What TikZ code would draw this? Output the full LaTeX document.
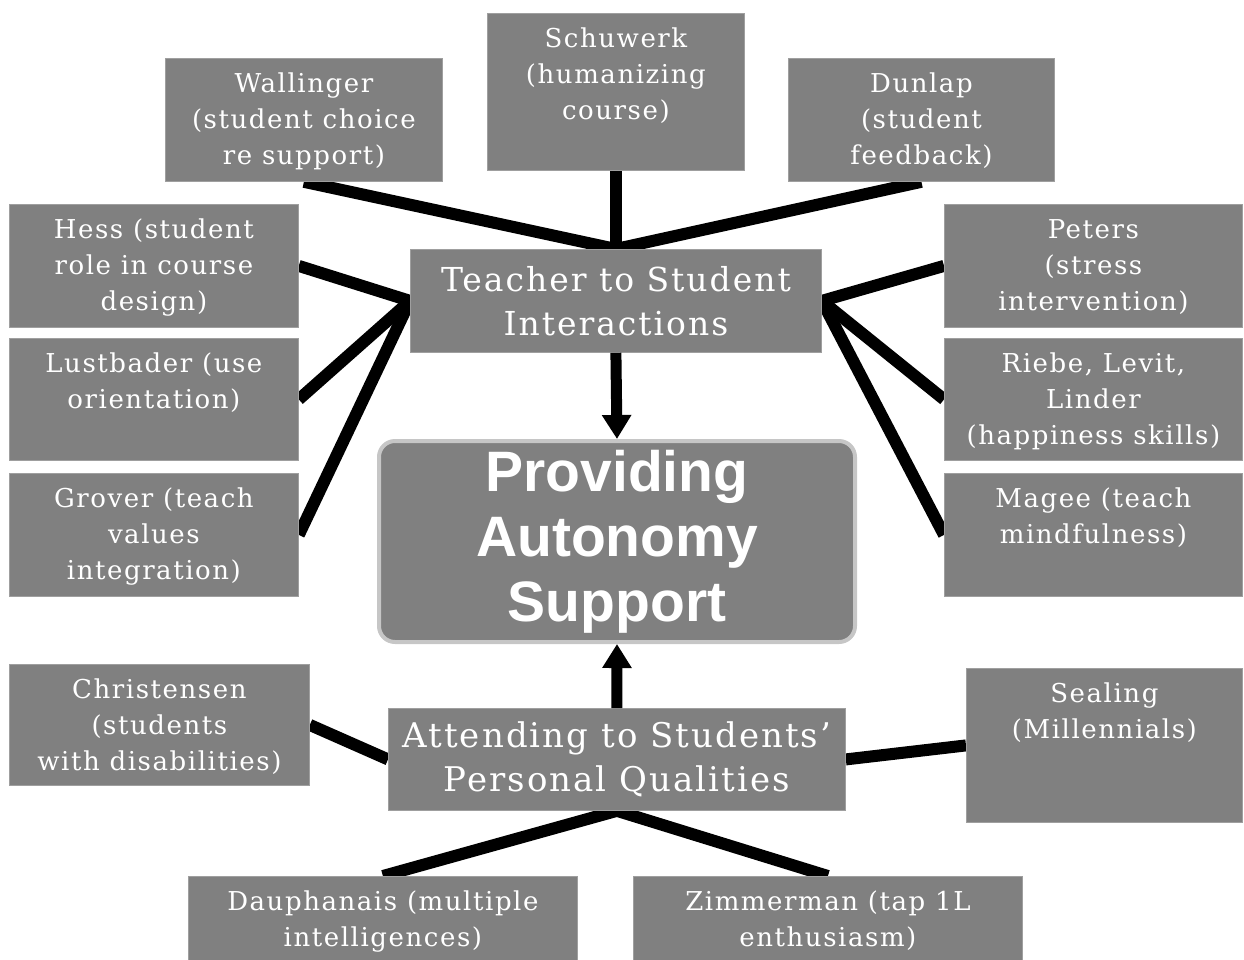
\documentclass[tikz,border=0pt]{standalone}
\usepackage{fontspec}
\setmainfont{DejaVu Serif}
\newfontfamily\centerfont{Liberation Sans}
\newfontfamily\spacedserif[LetterSpace=6]{DejaVu Serif}
\usetikzlibrary{arrows.meta,backgrounds}
\definecolor{boxgray}{RGB}{128,128,128}
\newcommand\tbx[3]{\parbox[c][#2pt][t]{#1pt}{\centering\vspace*{9pt}\strut #3}}
\begin{document}
\begin{tikzpicture}[x=1pt,y=-1pt,
  box/.style={fill=boxgray, draw=gray!75, line width=0.8pt, inner sep=0pt, text=white,
    font=\spacedserif\fontsize{26}{36}\selectfont, anchor=north west},
  mainbox/.style={fill=boxgray, draw=gray!75, line width=0.8pt, inner sep=0pt, text=white,
    font=\spacedserif\fontsize{33}{44}\selectfont, align=center, anchor=north west},
  centerbox/.style={fill=boxgray, draw=gray!45, line width=4pt, rounded corners=16pt, inner sep=0pt,
    text=white, font=\centerfont\bfseries\fontsize{57}{65}\selectfont, align=center, anchor=north west},
  link/.style={line width=12pt, black},
  arr/.style={line width=11pt, black, -{Triangle[width=28pt,length=24pt]}}]
\useasboundingbox (0,0) rectangle (1244,959);

% top row
\node[box] (wal) at (165,58) {\tbx{277}{123}{Wallinger\\(student choice\\re support)}};
\node[box] (sch) at (487,13) {\tbx{257}{157}{Schuwerk\\(humanizing\\course)}};
\node[box] (dun) at (788,58) {\tbx{266}{123}{Dunlap\\(student\\feedback)}};
% left column
\node[box] (hes) at (9,204) {\tbx{289}{123}{Hess (student\\role in course\\design)}};
\node[box] (lus) at (9,338) {\tbx{289}{122}{Lustbader (use\\orientation)}};
\node[box] (gro) at (9,473) {\tbx{289}{123}{Grover (teach\\values\\integration)}};
% right column
\node[box] (pet) at (944,204) {\tbx{298}{123}{Peters\\(stress\\intervention)}};
\node[box] (rie) at (944,338) {\tbx{298}{122}{Riebe, Levit,\\Linder\\(happiness skills)}};
\node[box] (mag) at (944,473) {\tbx{298}{123}{Magee (teach\\mindfulness)}};
% bottom
\node[box] (chr) at (9,664) {\tbx{300}{121}{Christensen\\(students\\with disabilities)}};
\node[box] (sea) at (966,668) {\tbx{276}{154}{Sealing\\(Millennials)}};
\node[box] (dau) at (188,876) {\tbx{389}{90}{Dauphanais (multiple\\intelligences)}};
\node[box] (zim) at (633,876) {\tbx{389}{90}{Zimmerman (tap 1L\\enthusiasm)}};
% central
\node[mainbox, minimum width=411pt, minimum height=103pt] (tea) at (410,249) {Teacher to Student\\Interactions};
\node[mainbox, font=\spacedserif\fontsize{34}{44}\selectfont, minimum width=457pt, minimum height=102pt] (att) at (388,708) {Attending to Students’\\Personal Qualities};
\node[centerbox, minimum width=476pt, minimum height=201pt] (pro) at (377,439) {Providing\\Autonomy\\Support};

\begin{scope}[on background layer]
  \draw[link] (wal.south) -- (tea.north);
  \draw[link] (sch.south) -- (tea.north);
  \draw[link] (dun.south) -- (tea.north);
  \draw[link] (hes.east) -- (tea.west);
  \draw[link] (lus.east) -- (tea.west);
  \draw[link] (gro.east) -- (tea.west);
  \draw[link] (pet.west) -- (tea.east);
  \draw[link] (rie.west) -- (tea.east);
  \draw[link] (mag.west) -- (tea.east);
  \draw[link] (chr.east) -- (att.west);
  \draw[link] (sea.west) -- (att.east);
  \draw[link] (dau.north) -- (att.south);
  \draw[link] (zim.north) -- (att.south);
\end{scope}
\draw[arr] (tea.south) -- (pro.north);
\draw[arr] (att.north) -- (pro.south);
\end{tikzpicture}
\end{document}
